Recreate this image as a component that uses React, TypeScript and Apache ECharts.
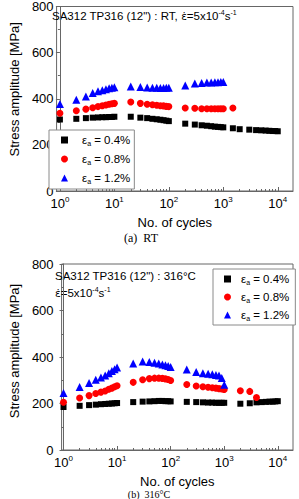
import { useEffect, useRef } from 'react';
import * as echarts from 'echarts';

// Room temperature test (cycles, stress amplitude in MPa)
const rtCycles04 = [1, 2, 3, 4, 5, 6, 7, 8, 9, 10, 20, 30, 40, 50, 60, 70, 80, 90, 100, 200, 300, 400, 500, 600, 700, 800, 900, 1000, 1500, 2000, 3000, 4000, 5000, 6000, 7000, 8000, 9000, 10000];
const rtStress04 = [310, 313, 316, 318, 319, 320, 320, 321, 321, 322, 322, 318, 316, 313, 311, 309, 307, 305, 303, 292, 288, 285, 283, 281, 279, 278, 277, 276, 272, 268, 266, 264, 263, 262, 261, 260, 260, 259];

const rtCycles08 = [1, 2, 3, 4, 5, 6, 7, 8, 9, 10, 20, 30, 40, 50, 60, 70, 80, 90, 100, 200, 300, 400, 500, 600, 700, 800, 900, 1000, 1500];
const rtStress08 = [337, 348, 355, 361, 366, 370, 373, 376, 378, 380, 386, 380, 376, 374, 372, 370, 369, 367, 366, 360, 359, 357, 357, 357, 357, 357, 357, 357, 360];

const rtCycles12 = [1, 2, 3, 4, 5, 6, 7, 8, 9, 10, 20, 30, 40, 50, 60, 70, 80, 90, 100, 200, 300, 400, 500, 600, 700, 800, 900, 1000];
const rtStress12 = [377, 396, 410, 425, 432, 437, 441, 445, 448, 450, 453, 451, 449, 448, 448, 447, 447, 448, 448, 457, 466, 468, 470, 471, 472, 472, 473, 473];

// 316 °C test
const htCycles04 = [1, 2, 3, 4, 5, 6, 7, 8, 9, 10, 20, 30, 40, 50, 60, 70, 80, 90, 100, 200, 300, 400, 500, 600, 700, 800, 900, 1000, 2000, 3000, 4000, 5000, 6000, 7000, 8000, 9000, 10000];
const htStress04 = [185, 190, 193, 195, 197, 198, 199, 200, 201, 202, 206, 208, 209, 210, 211, 211, 210, 210, 209, 207, 206, 205, 204, 204, 203, 203, 203, 203, 199, 201, 205, 206, 207, 208, 208, 209, 210];

const htCycles08 = [1, 2, 3, 4, 5, 6, 7, 8, 9, 10, 20, 30, 40, 50, 60, 70, 80, 90, 100, 200, 300, 400, 500, 600, 700, 800, 900, 1000, 2000, 3000, 4000];
const htStress08 = [205, 224, 234, 243, 249, 254, 261, 266, 272, 276, 291, 302, 307, 309, 309, 308, 306, 303, 299, 282, 275, 272, 270, 268, 266, 264, 262, 260, 255, 252, 226];

const htCycles12 = [1, 2, 3, 4, 5, 6, 7, 8, 9, 10, 20, 30, 40, 50, 60, 70, 80, 90, 100, 200, 300, 400, 500, 600, 700, 800, 900, 1000];
const htStress12 = [245, 271, 288, 302, 312, 320, 330, 340, 347, 355, 372, 381, 378, 375, 372, 368, 365, 361, 357, 346, 336, 330, 328, 326, 323, 320, 310, 281];

const strainLabels = ['0.4%', '0.8%', '1.2%'];
const yTicks = [0, 200, 400, 600, 800];
const decadeExponents = [0, 1, 2, 3, 4];
const minorMultipliers = [2, 3, 4, 5, 6, 7, 8, 9];

const SANS = '"Liberation Sans", Arial, Helvetica, sans-serif';
const SERIF = '"Liberation Serif", "Times New Roman", serif';
const FRAME = '#666';

const minorTickValues = decadeExponents
  .slice(0, 4)
  .flatMap((e) => minorMultipliers.map((m) => Math.log10(m * Math.pow(10, e))));

const toPoints = (cycles: number[], stress: number[]) =>
  cycles.map((n, i) => [Math.log10(n), stress[i]]);

const seriesStyles = [
  { symbol: 'rect', symbolSize: 6, color: '#000000' },
  { symbol: 'circle', symbolSize: 7, color: '#ff0000' },
  { symbol: 'triangle', symbolSize: 8, color: '#0000ff' },
];

function xAxesFor(gridIndex: number, min: number, max: number) {
  return [
    {
      type: 'value',
      gridIndex,
      position: 'bottom',
      min,
      max,
      name: 'No. of cycles',
      nameLocation: 'middle',
      nameGap: 25,
      nameTextStyle: { fontFamily: SANS, fontSize: 13, color: '#000' },
      axisLine: { show: true, lineStyle: { color: FRAME, width: 1 } },
      axisTick: { show: true, inside: true, length: 4, customValues: decadeExponents, lineStyle: { color: FRAME } },
      axisLabel: {
        customValues: decadeExponents,
        margin: 4,
        formatter: (v: number) => `{b|10}{s|${Math.round(v)}}`,
        rich: {
          b: { fontFamily: SANS, fontSize: 13, color: '#000', lineHeight: 16 },
          s: { fontFamily: SANS, fontSize: 8, color: '#000', lineHeight: 9, verticalAlign: 'top' },
        },
      },
      splitLine: { show: false },
    },
    {
      type: 'value',
      gridIndex,
      position: 'bottom',
      min,
      max,
      axisLine: { show: false },
      axisTick: { show: true, inside: true, length: 2, customValues: minorTickValues, lineStyle: { color: FRAME } },
      axisLabel: { show: false },
      splitLine: { show: false },
    },
  ];
}

function yAxisFor(gridIndex: number, margin: number, nameGap: number, shift: number) {
  return {
    type: 'value',
    gridIndex,
    min: 0,
    max: 800,
    interval: 200,
    name: 'Stress amplitude [MPa]',
    nameLocation: 'middle',
    nameGap,
    nameTextStyle: { fontFamily: SANS, fontSize: 13, color: '#000', padding: [0, 0, 0, shift] },
    axisLine: { show: true, lineStyle: { color: FRAME, width: 1 } },
    axisTick: { show: true, inside: false, length: 4, lineStyle: { color: FRAME } },
    minorTick: { show: true, splitNumber: 2, length: 2, lineStyle: { color: FRAME } },
    axisLabel: {
      margin,
      fontFamily: SANS,
      fontSize: 13,
      color: '#000',
      customValues: yTicks,
    },
    splitLine: { show: false },
    minorSplitLine: { show: false },
  };
}

function legendFor(left: number, top: number, textShift: number, itemGap: number, padding: number[]) {
  return {
    orient: 'vertical',
    left,
    top,
    itemWidth: 7,
    itemHeight: 7,
    itemGap,
    padding,
    selectedMode: false,
    borderColor: '#8a8a8a',
    borderWidth: 1,
    borderRadius: 0,
    backgroundColor: '#ffffff',
    data: strainLabels,
    formatter: (name: string) => `{e|ε}{a|a}{t| = ${name}}`,
    textStyle: {
      fontFamily: SANS,
      fontSize: 11.5,
      color: '#000',
      rich: {
        e: { fontFamily: SANS, fontSize: 11.5, color: '#000', lineHeight: 14, padding: [0, 0, 0, textShift] },
        a: { fontFamily: SANS, fontSize: 7, color: '#000', lineHeight: 8, verticalAlign: 'bottom' },
        t: { fontFamily: SANS, fontSize: 11.5, color: '#000', lineHeight: 14 },
      },
    },
  };
}

const annotationRich = {
  n: { fontFamily: SANS, fontSize: 11.5, fill: '#000', lineHeight: 14 },
  d: { fontFamily: '"DejaVu Sans", sans-serif', fontSize: 10.5, fill: '#000', lineHeight: 14 },
  p: { fontFamily: SANS, fontSize: 7, fill: '#000', lineHeight: 8, verticalAlign: 'top' },
};

export default function App() {
  const ref = useRef<HTMLDivElement>(null);

  useEffect(() => {
    if (!ref.current) return;
    const chart = echarts.init(ref.current, undefined, { renderer: 'svg' });

    const groups = [
      [rtCycles04, rtStress04, rtCycles08, rtStress08, rtCycles12, rtStress12],
      [htCycles04, htStress04, htCycles08, htStress08, htCycles12, htStress12],
    ];

    const series: any[] = [];
    groups.forEach((g, gi) => {
      for (let k = 0; k < 3; k++) {
        const st = seriesStyles[k];
        series.push({
          type: 'scatter',
          name: strainLabels[k],
          xAxisIndex: gi * 2,
          yAxisIndex: gi,
          symbol: st.symbol,
          symbolSize: st.symbolSize,
          itemStyle: { color: st.color, opacity: 1 },
          data: toPoints(g[k * 2], g[k * 2 + 1]),
        });
      }
    });

    chart.setOption({
      animation: false,
      backgroundColor: '#ffffff',
      grid: [
        { left: 45, top: 5, width: 248, height: 186, show: true, borderColor: FRAME, borderWidth: 1, backgroundColor: 'transparent' },
        { left: 50, top: 264, width: 243, height: 186, show: true, borderColor: FRAME, borderWidth: 1, backgroundColor: 'transparent' },
      ],
      xAxis: [...xAxesFor(0, -0.061, 4.28), ...xAxesFor(1, -0.036, 4.284)],
      yAxis: [yAxisFor(0, 3, 30, 19), yAxisFor(1, 8, 35, 12)],
      legend: [
        legendFor(49, 130, 9, 6, [4, 4, 4, 12]),
        legendFor(213, 269, 5, 5, [4, 6, 3, 11]),
      ],
      graphic: [
        {
          type: 'text',
          x: 52,
          y: 16,
          style: {
            text: '{n|SA312 TP316 (12") : RT, }{d|ε\u0307}{n|=5x10}{p|-4}{n|s}{p|-1}',
            rich: annotationRich,
            align: 'left',
            verticalAlign: 'middle',
          },
        },
        {
          type: 'text',
          x: 55,
          y: 276,
          style: {
            text: '{n|SA312 TP316 (12") : 316°C}',
            rich: annotationRich,
            align: 'left',
            verticalAlign: 'middle',
          },
        },
        {
          type: 'text',
          x: 55,
          y: 293,
          style: {
            text: '{d|ε\u0307}{n|=5x10}{p|-4}{n|s}{p|-1}',
            rich: annotationRich,
            align: 'left',
            verticalAlign: 'middle',
          },
        },
        {
          type: 'text',
          x: 141,
          y: 238,
          style: { text: '(a)  RT', fontFamily: SERIF, fontSize: 12, fill: '#000', align: 'center', verticalAlign: 'middle' },
        },
        {
          type: 'text',
          x: 149,
          y: 494,
          style: { text: '(b)  316°C', fontFamily: SERIF, fontSize: 10, fill: '#000', align: 'center', verticalAlign: 'middle' },
        },
      ],
      series,
    });

    return () => chart.dispose();
  }, []);

  return <div ref={ref} style={{ position: 'absolute', left: 0, top: 0, width: 299, height: 499 }} />;
}
